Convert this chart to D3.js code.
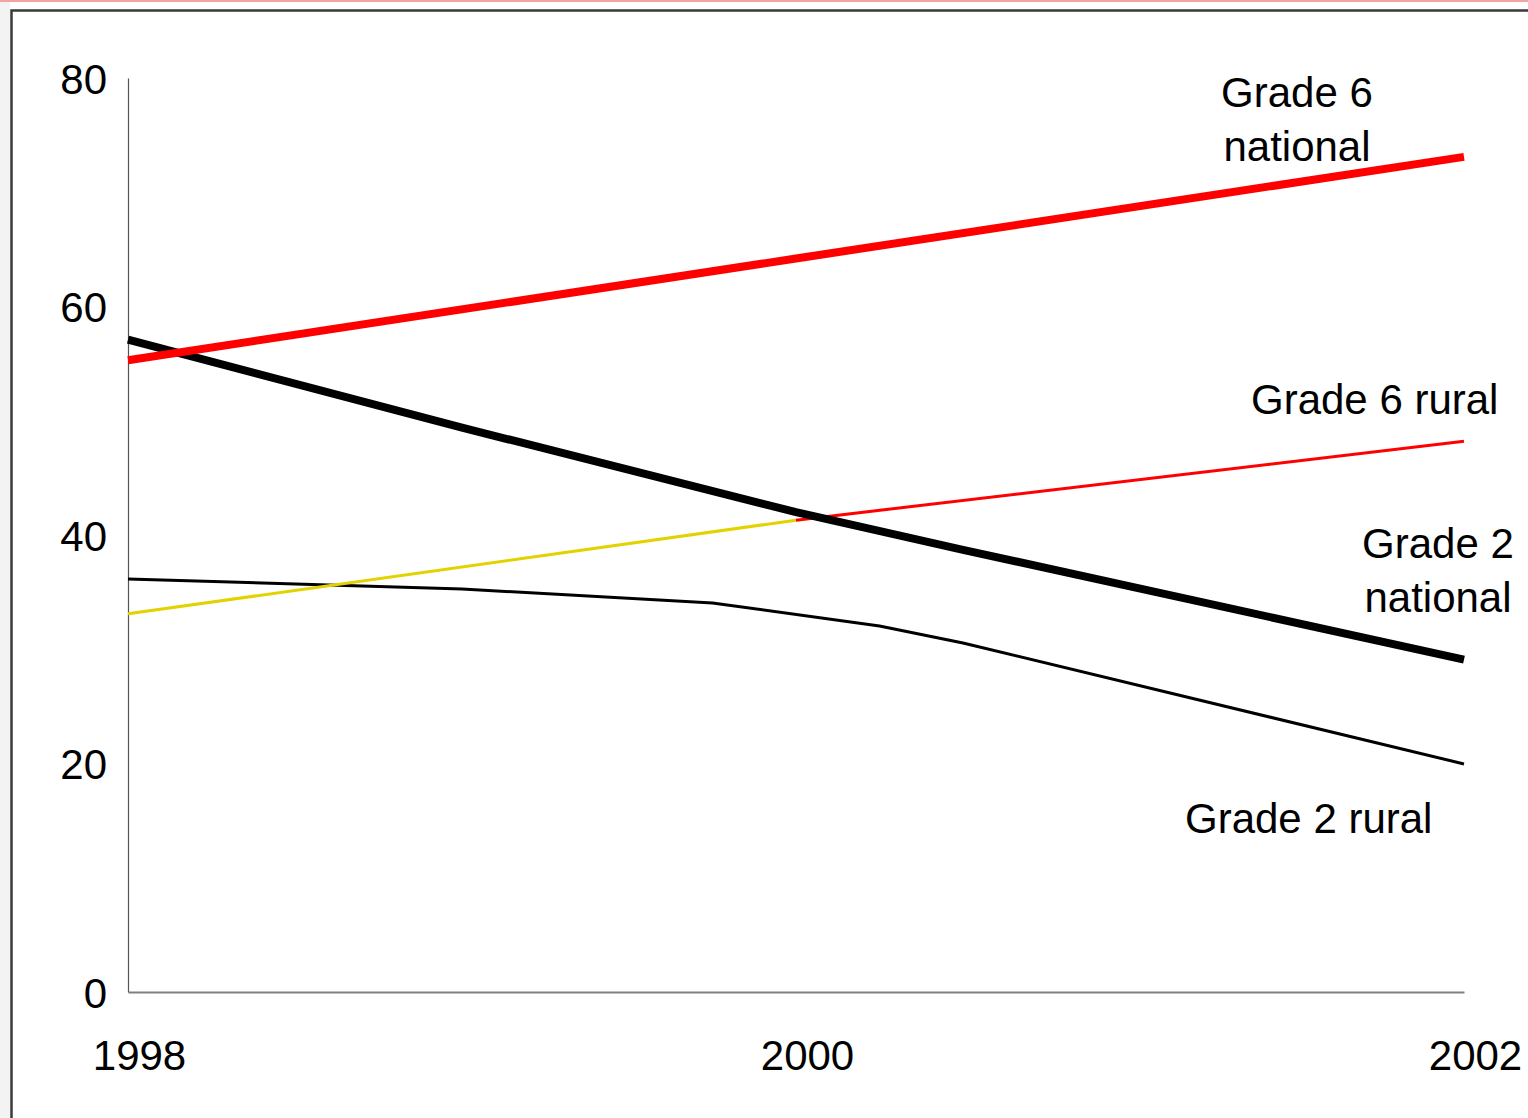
<!DOCTYPE html>
<html>
<head>
<meta charset="utf-8">
<script src="https://cdn.jsdelivr.net/npm/d3@7"></script>
<style>
  html, body { margin: 0; padding: 0; background: #fff; }
  svg { display: block; }
  text { font-family: "Liberation Sans", Arial, sans-serif; fill: #000; }
</style>
</head>
<body>
<svg id="chart" width="1528" height="1118"></svg>
<script>
// ---- data ----
const yTicks = [0, 20, 40, 60, 80];
const xTicks = [1998, 2000, 2002];

const grade6National = [
  { year: 1998, value: 55.3 },
  { year: 2000, value: 64.2 },
  { year: 2002, value: 73.1 }
];
const grade6RuralEarly = [
  { year: 1998, value: 33.1 },
  { year: 2000, value: 41.3 }
];
const grade6RuralLate = [
  { year: 2000, value: 41.3 },
  { year: 2002, value: 48.2 }
];
const grade2National = [
  { year: 1998, value: 57.1 },
  { year: 1999, value: 49.4 },
  { year: 2000, value: 42.0 },
  { year: 2000.5, value: 38.7 },
  { year: 2002, value: 29.1 }
];
const grade2Rural = [
  { year: 1998, value: 36.15 },
  { year: 1999, value: 35.27 },
  { year: 1999.75, value: 34.05 },
  { year: 2000.25, value: 32.03 },
  { year: 2000.5, value: 30.55 },
  { year: 2002, value: 19.96 }
];

const seriesLabels = [
  { lines: ["Grade 6", "national"], x: 1297, y: 92, anchor: "middle" },
  { lines: ["Grade 6 rural"], x: 1251, y: 399, anchor: "start" },
  { lines: ["Grade 2", "national"], x: 1438, y: 543, anchor: "middle" },
  { lines: ["Grade 2 rural"], x: 1185, y: 818, anchor: "start" }
];

// ---- drawing ----
const svg = d3.select("#chart");

// page decorations: faint left strip, pink top rule, dark frame
svg.append("rect").attr("x", 0).attr("y", 0).attr("width", 10).attr("height", 1118).attr("fill", "#f3f3f3");
svg.append("line").attr("x1", 0).attr("x2", 1528).attr("y1", 1).attr("y2", 1)
  .attr("stroke", "#f4a3a3").attr("stroke-width", 2);
svg.append("rect").attr("x", 11.5).attr("y", 10.5).attr("width", 1530).attr("height", 1120)
  .attr("fill", "#fff").attr("stroke", "#3a3a3a").attr("stroke-width", 2.5);

const x = d3.scaleLinear().domain([1998, 2002]).range([128, 1464]);
const y = d3.scaleLinear().domain([0, 80]).range([992, 78]);

// axes
const yAxis = svg.append("g").attr("transform", "translate(128,0)")
  .call(d3.axisLeft(y).tickValues(yTicks).tickSize(0).tickPadding(21).tickFormat(d3.format("d")));
yAxis.select(".domain").attr("stroke", "#555").attr("stroke-width", 1.2);
yAxis.selectAll("text").attr("font-size", 42).attr("dy", "0.36em")
  .style("font-family", '"Liberation Sans", Arial, sans-serif').attr("fill", "#000");

const xAxis = svg.append("g").attr("transform", "translate(0,992)")
  .call(d3.axisBottom(x).tickValues(xTicks).tickSize(0).tickPadding(0).tickFormat(d3.format("d")));
xAxis.select(".domain").attr("stroke", "#808080").attr("stroke-width", 2);
xAxis.selectAll("text").attr("font-size", 42).attr("dy", 0)
  .attr("transform", "translate(11,78)")
  .style("font-family", '"Liberation Sans", Arial, sans-serif').attr("fill", "#000");

const line = d3.line().x(d => x(d.year)).y(d => y(d.value));

const drawn = [
  { data: grade2Rural, color: "#000", width: 3 },
  { data: grade6RuralEarly, color: "#e2d300", width: 3 },
  { data: grade6RuralLate, color: "#ff0000", width: 3 },
  { data: grade2National, color: "#000", width: 8 },
  { data: grade6National, color: "#ff0000", width: 8 }
];

svg.append("g").selectAll("path").data(drawn).join("path")
  .attr("d", d => line(d.data))
  .attr("fill", "none")
  .attr("stroke", d => d.color)
  .attr("stroke-width", d => d.width)
  .attr("stroke-linejoin", "round");

// series labels
const lab = svg.append("g");
seriesLabels.forEach(s => {
  const t = lab.append("text")
    .attr("x", s.x).attr("y", s.y)
    .attr("text-anchor", s.anchor)
    .attr("font-size", 42)
    .attr("dominant-baseline", "central");
  s.lines.forEach((ln, i) => {
    t.append("tspan").attr("x", s.x).attr("dy", i === 0 ? 0 : 54).text(ln);
  });
});
</script>
</body>
</html>
